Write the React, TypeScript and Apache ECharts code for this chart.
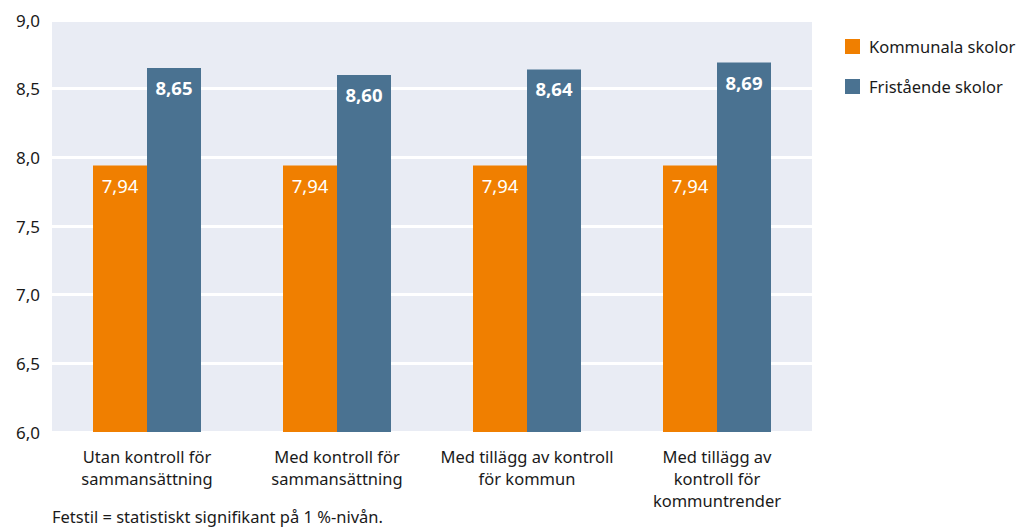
import React, { useEffect, useRef } from "react";
import * as echarts from "echarts";

const categories = [
  "Utan kontroll för\nsammansättning",
  "Med kontroll för\nsammansättning",
  "Med tillägg av kontroll\nför kommun",
  "Med tillägg av\nkontroll för\nkommuntrender",
];
const kommunala = [7.94, 7.94, 7.94, 7.94];
const fristaende = [8.65, 8.6, 8.64, 8.69];
const yTicks = { min: 6, max: 9, interval: 0.5 };
const footnote = "Fetstil = statistiskt signifikant på 1 %-nivån.";

const fmt = (v: number) => v.toFixed(2).replace(".", ",");
const FONT = "Noto Sans";

export default function App() {
  const ref = useRef<HTMLDivElement>(null);
  useEffect(() => {
    if (!ref.current) return;
    const chart = echarts.init(ref.current, undefined, { renderer: "svg" });
    chart.setOption({
      animation: false,
      textStyle: { fontFamily: FONT },
      grid: { left: 52, right: 206, top: 20, bottom: 95, containLabel: false, show: true, backgroundColor: "#e9ecf4", borderWidth: 0 },
      legend: {
        orient: "vertical",
        left: 840,
        top: 33,
        itemWidth: 15,
        itemHeight: 15,
        itemGap: 23,
        icon: "rect",
        textStyle: { fontFamily: FONT, fontSize: 16.5, color: "#1a1a1a", padding: [0, 0, 0, 4] },
        data: ["Kommunala skolor", "Fristående skolor"],
      },
      xAxis: {
        type: "category",
        data: categories,
        axisLine: { show: false },
        axisTick: { show: false },
        axisLabel: { fontFamily: FONT, fontSize: 16.5, color: "#1a1a1a", lineHeight: 22, margin: 13, interval: 0 },
      },
      yAxis: {
        type: "value",
        min: yTicks.min,
        max: yTicks.max,
        interval: yTicks.interval,
        axisLine: { show: false },
        axisTick: { show: false },
        splitLine: { lineStyle: { color: "#ffffff", width: 3 } },
        axisLabel: {
          fontFamily: FONT,
          fontSize: 17,
          color: "#1a1a1a",
          margin: 12,
          formatter: (v: number) => v.toFixed(1).replace(".", ","),
        },
      },
      series: [
        {
          name: "Kommunala skolor",
          type: "bar",
          data: kommunala,
          barWidth: 54,
          barGap: "0%",
          itemStyle: { color: "#f07f00" },
          label: {
            show: true,
            position: "insideTop",
            distance: 10,
            color: "#ffffff",
            fontFamily: FONT,
            fontSize: 18.5,
            formatter: (p: any) => fmt(p.value),
          },
        },
        {
          name: "Fristående skolor",
          type: "bar",
          data: fristaende,
          barWidth: 54,
          barGap: "0%",
          itemStyle: { color: "#4a7291" },
          label: {
            show: true,
            position: "insideTop",
            distance: 10,
            color: "#ffffff",
            fontFamily: FONT,
            fontSize: 18.5,
            fontWeight: "bold",
            formatter: (p: any) => fmt(p.value),
          },
        },
      ],
      graphic: [
        {
          type: "text",
          left: 52,
          top: 508,
          style: { text: footnote, fontFamily: FONT, fontSize: 16.5, fill: "#1a1a1a" },
        },
      ],
    });
    return () => chart.dispose();
  }, []);
  return <div ref={ref} style={{ width: 1018, height: 527, position: "absolute", left: 0, top: 0 }} />;
}
